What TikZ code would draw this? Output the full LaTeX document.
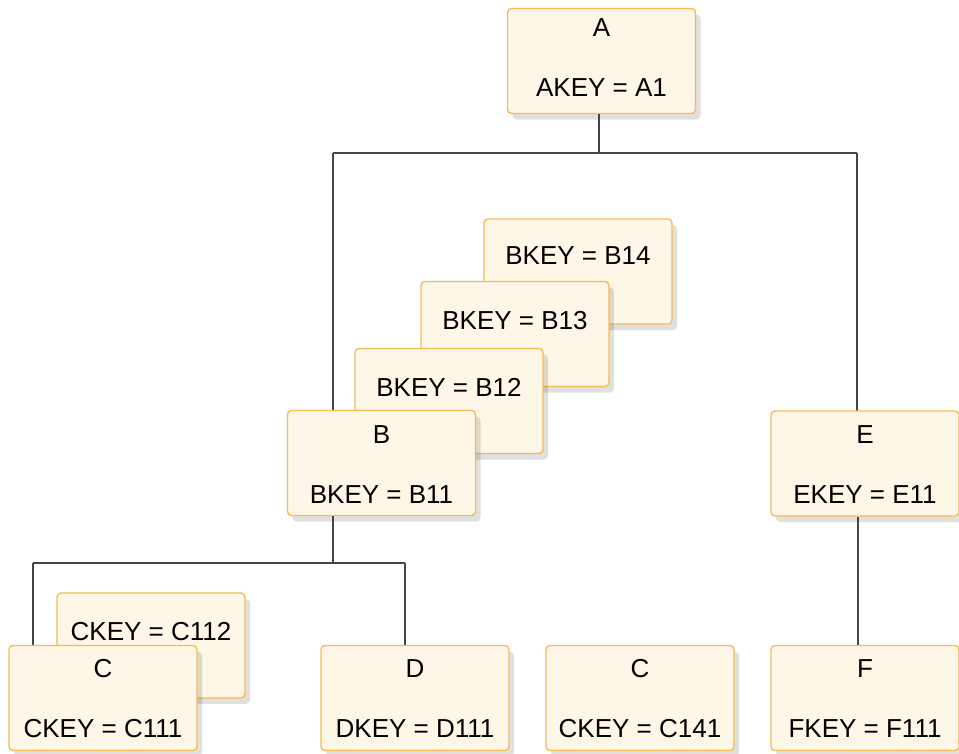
\documentclass[tikz,border=0pt]{standalone}
\usepackage{fontspec}
\setmainfont{Liberation Sans}
\usetikzlibrary{shadows}
\definecolor{boxfill}{HTML}{FEF6E6}
\definecolor{boxline}{HTML}{F5BC55}
\definecolor{conn}{HTML}{444444}
\begin{document}
\begin{tikzpicture}[x=1pt,y=-1pt,
  rec/.style={draw=boxline, line width=1.4pt, fill=boxfill, rounded corners=4pt,
    minimum width=188pt, minimum height=105pt, inner sep=0pt,
    drop shadow={shadow xshift=5pt, shadow yshift=-6pt, fill=black, opacity=0.12}},
  txt/.style={font=\fontsize{26}{30}\selectfont, inner sep=0pt, anchor=center},
  link/.style={draw=conn, line width=1.3pt}]
\useasboundingbox (0,0) rectangle (959,753);
% connectors (behind boxes)
\coordinate (jA) at (599,153);
\coordinate (jB) at (333,563);
% boxes
\node[rec] (A) at (601.5,61) {};
\node[txt] (At) at ([yshift=-20pt]A.north) {A};
\node[txt] (Ak) at ([yshift=27pt]A.south) {AKEY = A1};

\draw[link] (599,114) -- (jA);
\draw[link] (333,153) -- (857,153);
\draw[link] (333,153) -- (333,411);
\draw[link] (857,153) -- (857,412);

\node[rec] (B14) at (578,271.5) {};
\node[txt] (B14t) at ([yshift=-37pt]B14.north) {BKEY = B14};
\node[rec] (B13) at (515,334) {};
\node[txt] (B13t) at ([yshift=-40pt]B13.north) {BKEY = B13};
\node[rec] (B12) at (449,401) {};
\node[txt] (B12t) at ([yshift=-40pt]B12.north) {BKEY = B12};
\node[rec] (B) at (381.5,463) {};
\node[txt] (Bt) at ([yshift=-25pt]B.north) {B};
\node[txt] (Bk) at ([yshift=22pt]B.south) {BKEY = B11};

\node[rec] (E) at (865,463.5) {};
\node[txt] (Et) at ([yshift=-24pt]E.north) {E};
\node[txt] (Ek) at ([yshift=22pt]E.south) {EKEY = E11};

\draw[link] ([xshift=-48.5pt]B.south) -- (jB);
\draw[link] (33,563) -- (405,563);
\draw[link] (33,563) -- (33,645);
\draw[link] (405,563) -- (405,645);
\draw[link] ([xshift=-7pt]E.south) -- (858,645);

\node[rec] (C112) at (151,645.5) {};
\node[txt] (C112t) at ([yshift=-39pt]C112.north) {CKEY = C112};
\node[rec] (C) at (103,698) {};
\node[txt] (Ct) at ([yshift=-24pt]C.north) {C};
\node[txt] (Ck) at ([yshift=23pt]C.south) {CKEY = C111};

\node[rec] (D) at (415,698) {};
\node[txt] (Dt) at ([yshift=-24pt]D.north) {D};
\node[txt] (Dk) at ([yshift=23pt]D.south) {DKEY = D111};

\node[rec] (C141) at (640,698) {};
\node[txt] (C141t) at ([yshift=-24pt]C141.north) {C};
\node[txt] (C141k) at ([yshift=23pt]C141.south) {CKEY = C141};

\node[rec] (F) at (865,698) {};
\node[txt] (Ft) at ([yshift=-24pt]F.north) {F};
\node[txt] (Fk) at ([yshift=23pt]F.south) {FKEY = F111};
\end{tikzpicture}
\end{document}
